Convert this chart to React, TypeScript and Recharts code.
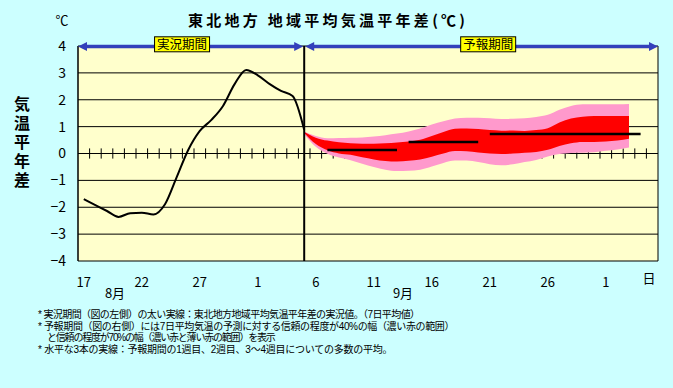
import React from "react";
import {
  ComposedChart,
  Line,
  Area,
  XAxis,
  YAxis,
  CartesianGrid,
  ReferenceLine,
} from "recharts";

// ---- data ----
const categories = [
  "8/17", "8/18", "8/19", "8/20", "8/21", "8/22", "8/23", "8/24", "8/25", "8/26",
  "8/27", "8/28", "8/29", "8/30", "8/31", "9/1", "9/2", "9/3", "9/4", "9/5",
  "9/6", "9/7", "9/8", "9/9", "9/10", "9/11", "9/12", "9/13", "9/14", "9/15",
  "9/16", "9/17", "9/18", "9/19", "9/20", "9/21", "9/22", "9/23", "9/24", "9/25",
  "9/26", "9/27", "9/28", "9/29", "9/30", "10/1", "10/2", "10/3", "10/4", "10/5",
];
const tickIndex = [0, 5, 10, 15, 20, 25, 30, 35, 40, 45];
const tickLabels = ["17", "22", "27", "1", "6", "11", "16", "21", "26", "1"];
const yTicks = [-4, -3, -2, -1, 0, 1, 2, 3, 4];

// observed 7-day mean anomaly (8/17 .. 9/5)
const observed = [
  -1.7, -1.92, -2.14, -2.36, -2.22, -2.2, -2.27, -1.89, -0.89, 0.13,
  0.84, 1.25, 1.77, 2.58, 3.11, 2.91, 2.59, 2.33, 2.14, 0.88,
];

// forecast bands start at 9/5
const forecastStart = 19;
const band70High = [
  0.82, 0.65, 0.57, 0.58, 0.59, 0.6, 0.63, 0.68, 0.74, 0.82,
  0.93, 1.08, 1.2, 1.3, 1.33, 1.33, 1.31, 1.28, 1.29, 1.31,
  1.36, 1.44, 1.63, 1.77, 1.83, 1.83, 1.83, 1.83, 1.84,
];
const band40High = [
  0.8, 0.59, 0.48, 0.42, 0.38, 0.36, 0.36, 0.38, 0.41, 0.45,
  0.51, 0.65, 0.8, 0.92, 0.93, 0.91, 0.87, 0.85, 0.86, 0.84,
  0.87, 0.94, 1.15, 1.3, 1.37, 1.4, 1.4, 1.4, 1.4,
];
const band40Low = [
  0.76, 0.35, 0.12, 0.0, -0.05, -0.14, -0.22, -0.28, -0.3, -0.27,
  -0.22, -0.12, 0.0, 0.09, 0.08, 0.04, 0.0, -0.02, 0.0, 0.03,
  0.06, 0.14, 0.28, 0.38, 0.43, 0.43, 0.45, 0.48, 0.55,
];
const band70Low = [
  0.72, 0.25, -0.01, -0.15, -0.25, -0.38, -0.5, -0.6, -0.65, -0.64,
  -0.6, -0.48, -0.35, -0.26, -0.26, -0.32, -0.4, -0.44, -0.4, -0.32,
  -0.24, -0.11, -0.02, 0.02, 0.03, 0.05, 0.1, 0.15, 0.22,
];

// ensemble means: week 1, week 2, weeks 3-4
const weekMeanValues = [0.13, 0.43, 0.73];
const weekMeanStart = [21, 28, 35];
const weekMeanEnd = [27, 34, 48];

const data = categories.map((date, i) => {
  const f = i - forecastStart;
  const inBand = f >= 0 && f < band70Low.length;
  const row: any = {
    i,
    date,
    obs: i < observed.length ? observed[i] : null,
    pink: inBand ? [band70Low[f], band70High[f]] : null,
    red: inBand ? [band40Low[f], band40High[f]] : null,
  };
  weekMeanValues.forEach((v, k) => {
    row["w" + k] = i >= weekMeanStart[k] && i <= weekMeanEnd[k] ? v : null;
  });
  return row;
});

const boundaries = categories.slice(1).map((_, k) => k + 0.5);

const FONT = "'Noto Sans CJK JP', 'Noto Sans', sans-serif";
const NOTE_FONT = "'Liberation Sans', 'Noto Sans CJK JP', sans-serif";
const BLUE = "#3340bb";

const PeriodArrow = (props: any) => {
  const { x1, x2, y1, label, frac, trimL, trimR } = props;
  const a = x1 + (trimL || 0);
  const b = x2 - (trimR || 0);
  const y = y1 + 0.5;
  const L = 9;
  const H = 4.5;
  const lx = x1 + (x2 - x1) * frac;
  return (
    <g>
      <line x1={a + L - 1} x2={b - L + 1} y1={y} y2={y} stroke={BLUE} strokeWidth={3.5} />
      <polygon points={`${a},${y} ${a + L},${y - H} ${a + L},${y + H}`} fill={BLUE} />
      <polygon points={`${b},${y} ${b - L},${y - H} ${b - L},${y + H}`} fill={BLUE} />
      <rect x={lx - 27.5} y={y - 9.7} width={55} height={15} fill="#ffff00" stroke="#000" strokeWidth={1} />
      <text x={lx} y={y + 2.6} textAnchor="middle" fontSize={12.5} fontFamily={FONT} fill="#000">
        {label}
      </text>
    </g>
  );
};

const XTick = (props: any) => {
  const { x, y, payload } = props;
  const k = tickIndex.indexOf(payload.value);
  return (
    <text x={x} y={y + 18} textAnchor="middle" fontSize={13} fontFamily={FONT} fill="#000">
      {k >= 0 ? tickLabels[k] : ""}
    </text>
  );
};

const notes = [
  { x: 38, ls: -0.6, t: "* 実況期間（図の左側）の太い実線：東北地方地域平均気温平年差の実況値。（7日平均値）" },
  { x: 38, ls: -0.35, t: "* 予報期間（図の右側）には7日平均気温の予測に対する信頼の程度が40%の幅（濃い赤の範囲）" },
  { x: 47, ls: -1.2, t: "と信頼の程度が70%の幅（濃い赤と薄い赤の範囲）を表示" },
  { x: 38, ls: -0.25, t: "* 水平な3本の実線：予報期間の1週目、2週目、3～4週目についての多数の平均。" },
];

const yLabelChars = ["気", "温", "平", "年", "差"];

export default function App() {
  return (
    <div
      style={{
        position: "absolute",
        left: 0,
        top: 0,
        width: 673,
        height: 388,
        background: "#ccffff",
        overflow: "hidden",
      }}
    >
      <ComposedChart
        width={673}
        height={388}
        data={data}
        margin={{ top: 46, right: 15, bottom: 97, left: 38 }}
      >
        <CartesianGrid
          vertical={false}
          stroke="#000"
          strokeWidth={1}
          fill="#ffffcc"
          fillOpacity={1}
        />
        <XAxis
          dataKey="i"
          type="number"
          domain={[-0.5, 49.5]}
          ticks={tickIndex}
          axisLine={false}
          tickLine={false}
          height={30}
          tick={<XTick />}
          allowDataOverflow
        />
        <YAxis
          type="number"
          domain={[-4, 4]}
          ticks={yTicks}
          width={40}
          axisLine={false}
          tickLine={false}
          tickSize={6}
          tickMargin={6}
          tick={{ fontSize: 14, fill: "#000", fontFamily: FONT }}
          tickFormatter={(v: number) => (v < 0 ? "\u2212" + Math.abs(v) : String(v))}
          allowDataOverflow
        />
        {boundaries.map((b) => (
          <ReferenceLine
            key={"t" + b}
            segment={[
              { x: b, y: -0.19 },
              { x: b, y: 0.19 },
            ]}
            stroke="#000"
            strokeWidth={1}
            zIndex={50}
          />
        ))}
        <Area
          dataKey="pink"
          type="monotone"
          stroke="none"
          fill="#ff99cc"
          fillOpacity={1}
          isAnimationActive={false}
          connectNulls={false}
          dot={false}
          activeDot={false}
        />
        <Area
          dataKey="red"
          type="monotone"
          stroke="none"
          fill="#ff0000"
          fillOpacity={1}
          isAnimationActive={false}
          connectNulls={false}
          dot={false}
          activeDot={false}
        />
        <ReferenceLine x={-0.5} stroke="#000" strokeWidth={1.5} zIndex={450} />
        <ReferenceLine x={49.5} stroke="#000" strokeWidth={1} zIndex={450} />
        <ReferenceLine x={forecastStart} stroke="#000" strokeWidth={2} zIndex={450} />
        {weekMeanValues.map((_, k) => (
          <Line
            key={"w" + k}
            dataKey={"w" + k}
            type="linear"
            stroke="#000"
            strokeWidth={2.5}
            dot={false}
            activeDot={false}
            isAnimationActive={false}
            connectNulls={false}
          />
        ))}
        <Line
          dataKey="obs"
          type="monotone"
          stroke="#000"
          strokeWidth={2}
          dot={false}
          activeDot={false}
          isAnimationActive={false}
          connectNulls={false}
        />
        <ReferenceLine
          segment={[
            { x: -0.5, y: 4 },
            { x: forecastStart, y: 4 },
          ]}
          zIndex={900}
          shape={(p: any) => <PeriodArrow {...p} label="実況期間" frac={0.46} trimR={1} />}
        />
        <ReferenceLine
          segment={[
            { x: forecastStart, y: 4 },
            { x: 49.5, y: 4 },
          ]}
          zIndex={900}
          shape={(p: any) => <PeriodArrow {...p} label="予報期間" frac={0.52} trimL={1} />}
        />
      </ComposedChart>
      <svg
        width={673}
        height={300}
        style={{ position: "absolute", left: 0, top: 0, pointerEvents: "none" }}
      >
        <text x={188} y={26} fontSize={15} fontWeight="bold" fontFamily={FONT} fill="#000" textLength={277} lengthAdjust="spacing">
          東北地方 地域平均気温平年差(℃)
        </text>
        <text x={62} y={25} textAnchor="middle" fontSize={13} fontFamily={FONT} fill="#000">
          ℃
        </text>
        <text x={115} y={297.5} textAnchor="middle" fontSize={13} fontFamily={FONT} fill="#000">
          8月
        </text>
        <text x={403} y={297.5} textAnchor="middle" fontSize={13} fontFamily={FONT} fill="#000">
          9月
        </text>
        <text x={649} y={283} textAnchor="middle" fontSize={13} fontFamily={FONT} fill="#000">
          日
        </text>
      </svg>
      <div style={{ position: "absolute", left: 12, top: 95, width: 20 }}>
        {yLabelChars.map((c, k) => (
          <div
            key={c + k}
            style={{
              height: 19,
              lineHeight: "19px",
              fontSize: 16,
              fontWeight: "bold",
              fontFamily: NOTE_FONT,
              color: "#000",
              textAlign: "center",
            }}
          >
            {c}
          </div>
        ))}
      </div>
      <div style={{ position: "absolute", left: 0, top: 309, width: 673 }}>
        {notes.map((n, k) => (
          <div
            key={k}
            style={{
              height: 11.6,
              lineHeight: "11.6px",
              fontSize: 10,
              fontFamily: NOTE_FONT,
              color: "#000",
              whiteSpace: "nowrap",
              paddingLeft: n.x,
              letterSpacing: n.ls,
              overflow: "visible",
            }}
          >
            {n.t}
          </div>
        ))}
      </div>
    </div>
  );
}
